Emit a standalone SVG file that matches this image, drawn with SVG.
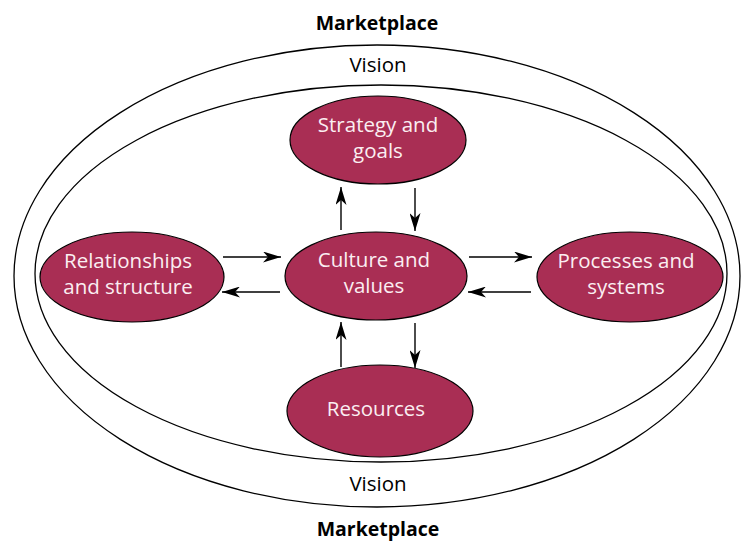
<svg xmlns="http://www.w3.org/2000/svg" width="741" height="543" viewBox="0 0 741 543">
<defs>
<style>
.ring{fill:none;stroke:#000;stroke-width:1.3}
.node{fill:#a92e54;stroke:#000;stroke-width:1.2}
.nt{font-family:"Open Sans","DejaVu Sans",sans-serif;font-size:20.5px;fill:#fbeef2;text-anchor:middle}
.lbl{font-family:"Open Sans","DejaVu Sans",sans-serif;font-size:20.5px;fill:#000;text-anchor:middle}
.mk{font-family:"Open Sans","DejaVu Sans",sans-serif;font-size:19.5px;font-weight:bold;fill:#000;text-anchor:middle}
.con{stroke:#000;stroke-width:1.4;fill:none;marker-end:url(#ah)}
</style>
<marker id="ah" viewBox="0 0 18 11" refX="18" refY="5.5" markerWidth="18" markerHeight="11" markerUnits="userSpaceOnUse" orient="auto">
<path d="M0,0 L18,5.5 L0,11 L5,5.5 Z" fill="#000"/>
</marker>
</defs>
<rect width="741" height="543" fill="#fff"/>
<g id="rings">
<ellipse class="ring" cx="377" cy="276" rx="363" ry="231"/>
<ellipse class="ring" cx="381" cy="273.5" rx="346" ry="188.5"/>
</g>
<g id="labels">
<text class="mk" x="377" y="30">Marketplace</text>
<text class="lbl" x="378" y="72">Vision</text>
<text class="lbl" x="378" y="491">Vision</text>
<text class="mk" x="378" y="536">Marketplace</text>
</g>
<g id="connectors">
<line class="con" x1="223" y1="257" x2="281" y2="257"/>
<line class="con" x1="280" y1="292" x2="222" y2="292"/>
<line class="con" x1="469" y1="257" x2="532" y2="257"/>
<line class="con" x1="531" y1="292" x2="468" y2="292"/>
<line class="con" x1="341" y1="230" x2="341" y2="187"/>
<line class="con" x1="415" y1="188" x2="415" y2="231"/>
<line class="con" x1="341" y1="367" x2="341" y2="322"/>
<line class="con" x1="415" y1="323" x2="415" y2="368"/>
</g>
<g id="strategy">
<ellipse class="node" cx="378" cy="140" rx="88" ry="44"/>
<text class="nt" x="378" y="132">Strategy and</text>
<text class="nt" x="378" y="158">goals</text>
</g>
<g id="culture">
<ellipse class="node" cx="376" cy="276" rx="91" ry="44"/>
<text class="nt" x="374" y="267">Culture and</text>
<text class="nt" x="374" y="293">values</text>
</g>
<g id="relationships">
<ellipse class="node" cx="132" cy="277" rx="92" ry="45"/>
<text class="nt" x="128" y="268">Relationships</text>
<text class="nt" x="128" y="294">and structure</text>
</g>
<g id="processes">
<ellipse class="node" cx="630" cy="277" rx="93" ry="45"/>
<text class="nt" x="626" y="268">Processes and</text>
<text class="nt" x="626" y="294">systems</text>
</g>
<g id="resources">
<ellipse class="node" cx="380" cy="411" rx="93" ry="46"/>
<text class="nt" x="376" y="416">Resources</text>
</g>
</svg>
